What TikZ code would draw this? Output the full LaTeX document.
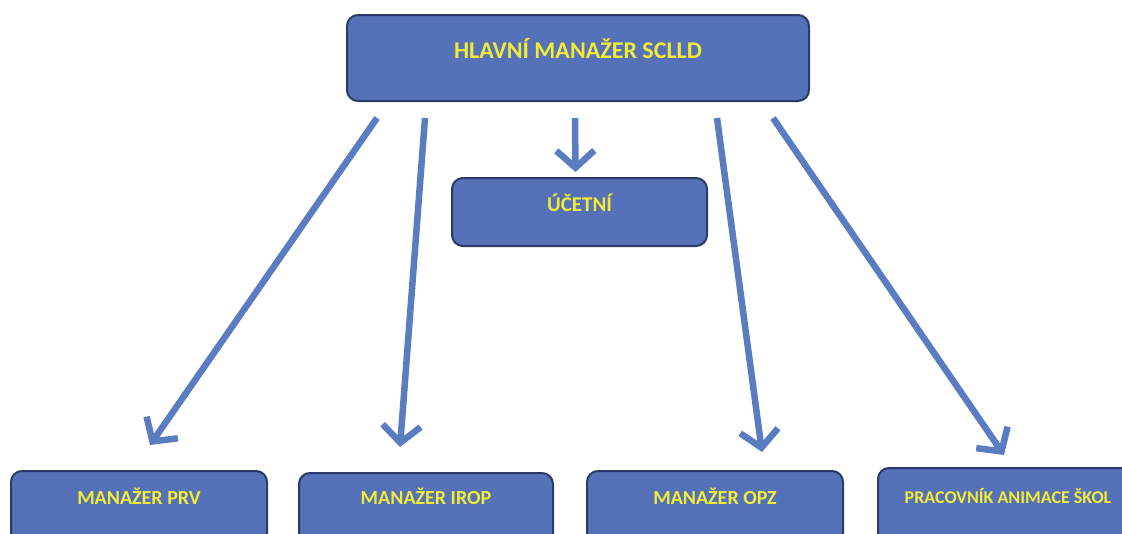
\documentclass[tikz,border=0pt]{standalone}
\usepackage{fontspec}
\setmainfont{Carlito}
\usetikzlibrary{arrows.meta,calc}
\definecolor{boxfill}{HTML}{5571B7}
\definecolor{boxline}{HTML}{2C3A66}
\definecolor{arrowc}{HTML}{5A7CC0}
\definecolor{txtc}{HTML}{F2EC36}
\tikzset{
  orgbox/.style={draw=boxline, fill=boxfill, line width=2pt, rounded corners=11pt,
    inner sep=0pt, text=txtc, font=\bfseries\fontsize{24}{24}\selectfont},
  lowbox/.style={orgbox, font=\bfseries\fontsize{20}{20}\selectfont},
  conn/.style={draw=arrowc, line width=6.5pt,
    -{Straight Barb[length=17pt,width=38pt,line width=6.5pt]}}
}
\begin{document}
\begin{tikzpicture}[x=1pt,y=-1pt]
\useasboundingbox (0,0) rectangle (1122,533);
\clip (0,0) rectangle (1122,533);
\fill[white] (0,0) rectangle (1122,533);
\node[orgbox, anchor=north west, minimum width=462pt, text height=43pt, text depth=43pt] (top) at (346,14) {HLAVNÍ MANAŽER SCLLD};
\node[orgbox, anchor=north west, minimum width=255pt, text height=33pt, text depth=35pt, font=\bfseries\fontsize{21}{21}\selectfont] (ucet) at (451,177) {ÚČETNÍ};
\node[lowbox, anchor=north west, minimum width=256pt, text height=33pt, text depth=60pt] (prv) at (10,470) {MANAŽER PRV};
\node[lowbox, anchor=north west, minimum width=254pt, text height=31pt, text depth=60pt] (irop) at (298,472) {MANAŽER IROP};
\node[lowbox, anchor=north west, minimum width=256pt, text height=33pt, text depth=60pt] (opz) at (586,470) {MANAŽER OPZ};
\node[lowbox, anchor=north west, minimum width=262pt, text height=35pt, text depth=60pt, font=\bfseries\fontsize{18}{18}\selectfont] (prac) at (877,467) {\hspace*{-2pt}PRACOVNÍK ANIMACE ŠKOL};
\draw[conn] ([shift={(31,16)}]top.south west) -- ([shift={(140,-25)}]prv.north west);
\draw[conn] ([shift={(79,16)}]top.south west) -- ([shift={(102,-25)}]irop.north west);
\draw[conn] ([shift={(-3,16)}]top.south) -- ([shift={(-4,-5)}]ucet.north);
\draw[conn] ([shift={(-93,16)}]top.south east) -- ([shift={(176,-18)}]opz.north west);
\draw[conn] ([shift={(-37,16)}]top.south east) -- ([shift={(127,-12)}]prac.north west);
\end{tikzpicture}
\end{document}
